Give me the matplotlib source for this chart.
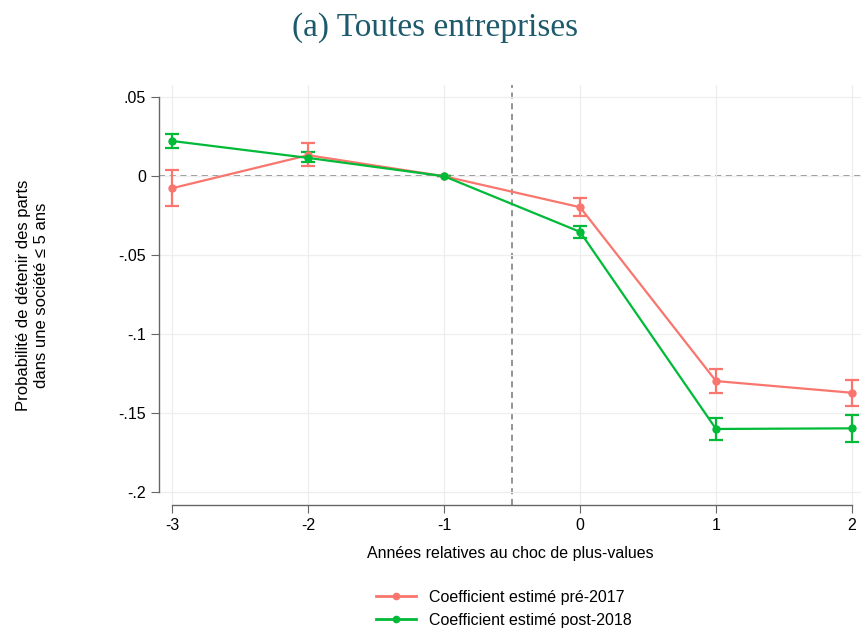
import numpy as np
import matplotlib.pyplot as plt
from matplotlib.lines import Line2D

# Event-study coefficients
years = [-3, -2, -1, 0, 1, 2]

pre_coef = [-0.0076, 0.0133, 0.0, -0.0196, -0.1296, -0.1370]
pre_low = [-0.0190, 0.0063, 0.0, -0.0250, -0.1373, -0.1456]
pre_high = [0.0038, 0.0210, 0.0, -0.0140, -0.1220, -0.1290]

post_coef = [0.0223, 0.0116, 0.0, -0.0352, -0.1599, -0.1595]
post_low = [0.0177, 0.0089, 0.0, -0.0392, -0.1670, -0.1680]
post_high = [0.0268, 0.0152, 0.0, -0.0312, -0.1530, -0.1510]

y_ticks = [0.05, 0, -0.05, -0.1, -0.15, -0.2]
y_tick_labels = [".05", "0", "-.05", "-.1", "-.15", "-.2"]

red = "#F8766D"
green = "#00BA38"

plt.rcParams['font.family'] = ['Liberation Sans', 'DejaVu Sans']

fig = plt.figure(figsize=(8.61, 6.31), dpi=100)
ax = fig.add_axes([0.1847, 0.1997, 0.8153, 0.6653])

handles = []
for coef, low, high, col, lab in [
    (pre_coef, pre_low, pre_high, red, "Coefficient estimé pré-2017"),
    (post_coef, post_low, post_high, green, "Coefficient estimé post-2018"),
]:
    coef = np.array(coef)
    err = [coef - np.array(low), np.array(high) - coef]
    ax.errorbar(years, coef, yerr=err, color=col, lw=1.6, marker="o", ms=5,
                capsize=5, capthick=1.6, elinewidth=1.6, zorder=3)
    handles.append(Line2D([], [], color=col, lw=2, marker="o", ms=4.5, label=lab))

ax.axhline(0, color="#777777", ls=(0, (4, 3)), lw=1.1, zorder=1)
ax.axvline(-0.5, color="#777777", ls=(0, (4, 3)), lw=1.1, zorder=1)

ax.set_xlim(-3.096, 2.066)
ax.set_ylim(-0.208, 0.0576)
ax.set_xticks(years)
ax.set_xticklabels([str(y) for y in years])
ax.set_yticks(y_ticks)
ax.set_yticklabels(y_tick_labels)
ax.grid(True, color="#eeeeee", lw=0.9, zorder=0)

for s in ["top", "right"]:
    ax.spines[s].set_visible(False)
ax.spines["left"].set_bounds(-0.2, 0.05)
ax.spines["bottom"].set_bounds(-3, 2)
for s in ["left", "bottom"]:
    ax.spines[s].set_color("#666666")
    ax.spines[s].set_linewidth(1.0)
ax.tick_params(colors="#666666", labelcolor="black", labelsize=11.5, length=6)

ax.set_xlabel("Années relatives au choc de plus-values", fontsize=11.5, labelpad=9)
ax.set_ylabel("Probabilité de détenir des parts\ndans une société ≤ 5 ans",
              fontsize=12, labelpad=50, linespacing=1.25)

fig.text(0.505, 0.957, "(a) Toutes entreprises", ha="center", va="center",
         fontsize=24, color="#1d5a6b", family=["Liberation Serif", "DejaVu Serif"])

fig.legend(handles=handles, loc="center", bbox_to_anchor=(0.585, 0.035), frameon=False,
           fontsize=11.5, handlelength=2.5, labelspacing=0.5)

fig.savefig("out.png", dpi=100)
